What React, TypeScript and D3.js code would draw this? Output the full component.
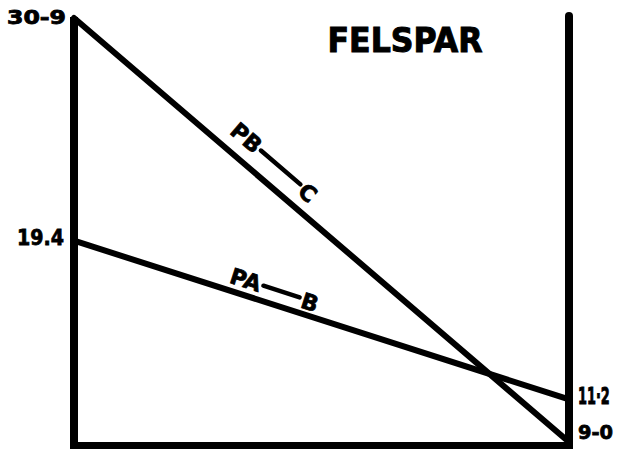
import React from "react";
import * as d3 from "d3";

const W = 621;
const H = 449;

// Data
const positions = [0, 1]; // left end, right end
const seriesNames = ["PB", "PA"];
const seriesEnds = ["C", "B"];
const pbValues = [30.9, 9.0];
const paValues = [19.4, 11.2];
const leftTickLabels = ["30-9", "19.4"];
const rightTickLabels = ["11·2", "9-0"];
const title = "FELSPAR";

const x = d3.scaleLinear().domain([0, 1]).range([74, 569]);
const y = d3.scaleLinear().domain([9, 30.9]).range([442, 18]);

const line = d3
  .line<number>()
  .x((_, i) => x(positions[i]))
  .y((d) => y(d));

const FONT = "'DejaVu Sans', 'Liberation Sans', sans-serif";

function LineLabel({
  values,
  t,
  offset,
  start,
  end,
  dash,
  size,
}: {
  values: number[];
  t: number;
  offset: number;
  start: string;
  end: string;
  dash: number;
  size: number;
}) {
  const x0 = x(positions[0]);
  const y0 = y(values[0]);
  const x1 = x(positions[1]);
  const y1 = y(values[1]);
  const ang = Math.atan2(y1 - y0, x1 - x0);
  const fx = x0 + (x1 - x0) * t;
  const fy = y0 + (y1 - y0) * t;
  const nx = Math.sin(ang);
  const ny = -Math.cos(ang);
  const cx = fx + nx * offset;
  const cy = fy + ny * offset;
  const deg = (ang * 180) / Math.PI;
  const mid = -size * 0.36;
  return (
    <g transform={`translate(${cx},${cy}) rotate(${deg})`}>
      <text
        x={-dash / 2 - 3}
        y={0}
        textAnchor="end"
        dominantBaseline="central"
        fontFamily={FONT}
        fontWeight={700}
        fontSize={size}
        stroke="#000"
        strokeWidth={0.8}
        transform={`translate(0,${mid})`}
      >
        {start}
      </text>
      <line x1={-dash / 2} x2={dash / 2} y1={mid} y2={mid} stroke="#000" strokeWidth={4.5} strokeLinecap="round" />
      <text
        x={dash / 2 + 3}
        y={0}
        textAnchor="start"
        dominantBaseline="central"
        fontFamily={FONT}
        fontWeight={700}
        fontSize={size}
        stroke="#000"
        strokeWidth={0.8}
        transform={`translate(0,${mid + 2})`}
      >
        {end}
      </text>
    </g>
  );
}

export default function App() {
  return (
    <svg
      width={W}
      height={H}
      viewBox={`0 0 ${W} ${H}`}
      style={{ position: "absolute", left: 0, top: 0, background: "#fff" }}
    >
      <rect width={W} height={H} fill="#fff" />
      {/* frame */}
      <line x1={x(0)} x2={x(0)} y1={17} y2={449} stroke="#000" strokeWidth={8} />
      <line x1={x(1)} x2={x(1)} y1={16} y2={449} stroke="#000" strokeWidth={8} strokeLinecap="round" />
      <line x1={x(0) - 4} x2={x(1) + 4} y1={445.5} y2={445.5} stroke="#000" strokeWidth={7} />

      {/* series */}
      <path d={line(pbValues) || ""} fill="none" stroke="#000" strokeWidth={6} strokeLinecap="round" />
      <path d={line(paValues) || ""} fill="none" stroke="#000" strokeWidth={6} strokeLinecap="round" />

      <LineLabel values={pbValues} t={0.39} offset={13} start={seriesNames[0]} end={seriesEnds[0]} dash={52} size={22} />
      <LineLabel values={paValues} t={0.41} offset={7} start={seriesNames[1]} end={seriesEnds[1]} dash={38} size={22} />

      {/* left labels */}
      <text x={66} y={y(pbValues[0]) - 1} textAnchor="end" dominantBaseline="central" fontFamily={FONT} fontWeight={700} fontSize={19} stroke="#000" strokeWidth={0.8} textLength={59} lengthAdjust="spacingAndGlyphs">
        {leftTickLabels[0]}
      </text>
      <text x={64} y={y(paValues[0]) - 3} textAnchor="end" dominantBaseline="central" fontFamily={FONT} fontWeight={700} fontSize={22} stroke="#000" strokeWidth={0.8} textLength={47} lengthAdjust="spacingAndGlyphs">
        {leftTickLabels[1]}
      </text>
      {/* right labels */}
      <g transform={`translate(578,${y(paValues[1]) - 3}) scale(0.56,1)`}>
        <text x={0} y={0} textAnchor="start" dominantBaseline="central" fontFamily={FONT} fontWeight={700} fontSize={23} stroke="#000" strokeWidth={1}>
          {rightTickLabels[0]}
        </text>
      </g>
      <text x={578} y={y(pbValues[1]) - 10} textAnchor="start" dominantBaseline="central" fontFamily={FONT} fontWeight={700} fontSize={20} stroke="#000" strokeWidth={0.8} textLength={35} lengthAdjust="spacingAndGlyphs">
        {rightTickLabels[1]}
      </text>

      {/* title */}
      <text x={405} y={52} textAnchor="middle" fontFamily={FONT} fontWeight={700} fontSize={33} stroke="#000" strokeWidth={1} textLength={155} lengthAdjust="spacingAndGlyphs">
        {title}
      </text>
    </svg>
  );
}
